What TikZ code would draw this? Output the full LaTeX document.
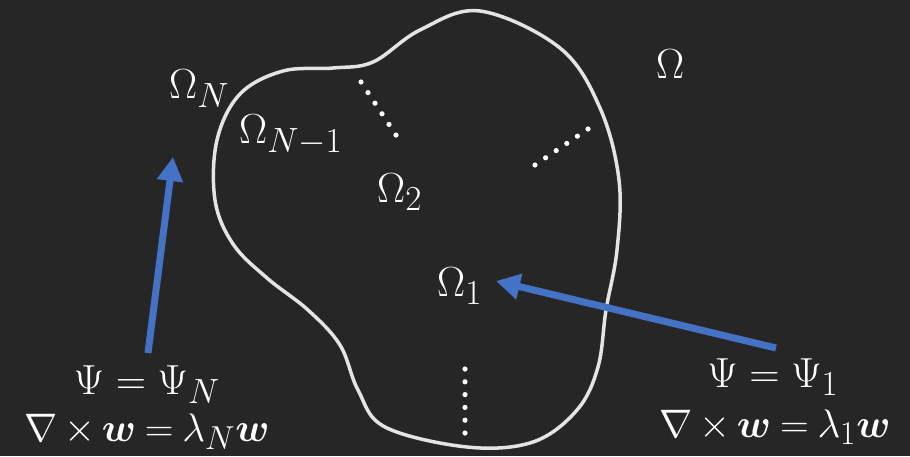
\documentclass[tikz,border=0pt]{standalone}
\usepackage{amsmath,bm}
\usetikzlibrary{arrows.meta,calc}
\definecolor{bg}{HTML}{262626}
\definecolor{curvecol}{HTML}{E4E4E4}
\definecolor{arrowblue}{HTML}{4472C4}
\newcommand{\scaledmath}[1]{\scalebox{1.69}{$#1$}}
\newcommand{\scaledcurl}[1]{\scalebox{1.6}{$\medmuskip=3mu\thickmuskip=4mu #1$}}
\begin{document}
\begin{tikzpicture}[x=1pt,y=-1pt,
  lbl/.style={text=white, inner sep=0pt, font=\Huge},
  blob/.style={draw=curvecol, line width=3.5pt},
  barrow/.style={draw=arrowblue, fill=arrowblue, line width=7pt, -{Triangle[length=24pt,width=25pt]}},
  dotcol/.style={fill=white}]
\fill[bg] (0,0) rectangle (910,456);
\useasboundingbox (0,0) rectangle (910,456);
% domain boundary
\draw[blob] plot[smooth cycle, tension=0.6] coordinates {
  (480,11) (560,48) (600,108) (619,180) (617,250) (606,310) (598,367)
  (577,410) (533,442) (467,447) (385,427) (358,390) (340,345) (308,310)
  (267,278) (233,244) (215,200) (217,140) (240,94) (283,71) (333,68)
  (373,62) (420,30)};
% dotted separators
\coordinate (d1a) at (361,82);  \coordinate (d1b) at (396,135);
\coordinate (d2a) at (535,165); \coordinate (d2b) at (588,129);
\coordinate (d3a) at (465,369); \coordinate (d3b) at (465,433);
\foreach \a/\b in {d1a/d1b, d2a/d2b, d3a/d3b}
  \foreach \i in {0,...,5}
    \fill[dotcol] ($(\a)!\i/5!(\b)$) circle (2.6);
% labels
\node[lbl, anchor=base west] (om)  at (656,78)  {\scaledmath{\Omega}};
\node[lbl, anchor=base west] (omN) at (169,98)  {\scaledmath{\Omega_N}};
\node[lbl, anchor=base west] (omN1) at (239,143) {\scaledmath{\Omega_{N-1}}};
\node[lbl, anchor=base west] (om2) at (377,202) {\scaledmath{\Omega_2}};
\node[lbl, anchor=base west] (om1) at (437,296) {\scaledmath{\Omega_1}};
\node[lbl, anchor=base] (psiN)  at (147,394) {\scaledmath{\Psi=\Psi_N}};
\node[lbl, anchor=base] (curlN) at (147,441) {\scaledcurl{\nabla\times\bm{w}=\lambda_N\bm{w}}};
\node[lbl, anchor=base] (psi1)  at (773,387) {\scaledmath{\Psi=\Psi_1}};
\node[lbl, anchor=base] (curl1) at (775,437) {\scaledcurl{\nabla\times\bm{w}=\lambda_1\bm{w}}};
% arrows
\coordinate (tN) at (148,353);
\coordinate (hN) at (173,157);
\coordinate (t1) at (776,348);
\coordinate (h1) at (496,281);
\draw[barrow] (tN) -- (hN);
\draw[barrow] (t1) -- (h1);
\end{tikzpicture}
\end{document}
